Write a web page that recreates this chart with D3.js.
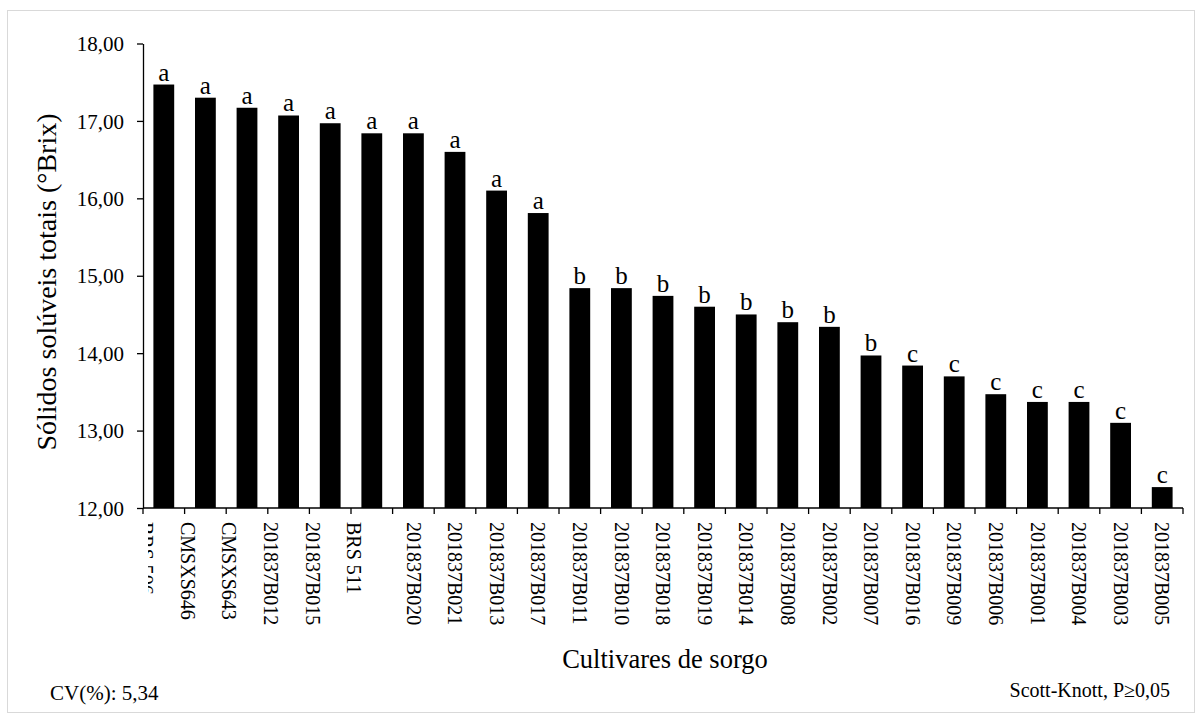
<!DOCTYPE html>
<html>
<head>
<meta charset="utf-8">
<script src="https://cdn.jsdelivr.net/npm/d3@7"></script>
<style>
  html, body { margin: 0; padding: 0; background: #fff; }
  svg text { font-family: "Liberation Serif", "Times New Roman", serif; fill: #000; }
</style>
</head>
<body>
<svg id="chart" width="1202" height="722"></svg>
<script>
// Cultivars of sorghum and their total soluble solids (°Brix)
const cultivars = [
  "BRS 506", "CMSXS646", "CMSXS643", "201837B012", "201837B015", "BRS 511",
  "201837B020", "201837B021", "201837B013", "201837B017", "201837B011",
  "201837B010", "201837B018", "201837B019", "201837B014", "201837B008",
  "201837B002", "201837B007", "201837B016", "201837B009", "201837B006",
  "201837B001", "201837B004", "201837B003", "201837B005"
];
const brix = [
  17.47, 17.30, 17.17, 17.07, 16.97, 16.84,
  16.84, 16.60, 16.10, 15.81, 14.84,
  14.84, 14.74, 14.60, 14.50, 14.40,
  14.34, 13.97, 13.84, 13.70, 13.47,
  13.37, 13.37, 13.10, 12.27
];
// Scott-Knott grouping letters
const groups = [
  "a", "a", "a", "a", "a", "a",
  "a", "a", "a", "a", "b",
  "b", "b", "b", "b", "b",
  "b", "b", "c", "c", "c",
  "c", "c", "c", "c"
];
const yTicks = [12, 13, 14, 15, 16, 17, 18];

const svg = d3.select("#chart");
const W = 1202, H = 722;

// outer frame
svg.append("rect")
  .attr("x", 7.5).attr("y", 10.5)
  .attr("width", 1187).attr("height", 702)
  .attr("fill", "#fff").attr("stroke", "#d9d9d9").attr("stroke-width", 1);

const plot = { left: 143, right: 1183, top: 43.5, bottom: 508 };

const x = d3.scaleBand()
  .domain(cultivars)
  .range([plot.left, plot.right])
  .paddingInner(0.5).paddingOuter(0.25);

const y = d3.scaleLinear()
  .domain([12, 18])
  .range([plot.bottom, plot.top]);

const fmt = v => d3.format(".2f")(v).replace(".", ",");

// bars
svg.append("g")
  .selectAll("rect")
  .data(cultivars)
  .join("rect")
  .attr("x", d => x(d))
  .attr("width", x.bandwidth())
  .attr("y", (d, i) => y(brix[i]))
  .attr("height", (d, i) => y(12) - y(brix[i]))
  .attr("fill", "#000");

// group letters above bars
svg.append("g")
  .selectAll("text")
  .data(cultivars)
  .join("text")
  .attr("x", d => x(d) + x.bandwidth() / 2)
  .attr("y", (d, i) => y(brix[i]) - 4)
  .attr("text-anchor", "middle")
  .attr("font-size", 25)
  .text((d, i) => groups[i]);

// y axis
const yAxis = svg.append("g")
  .attr("transform", `translate(${plot.left},0)`)
  .call(d3.axisLeft(y).tickValues(yTicks).tickFormat(fmt).tickSize(6).tickSizeOuter(0));
yAxis.select(".domain").attr("stroke", "#000").attr("stroke-width", 1.3);
yAxis.selectAll(".tick line").attr("stroke", "#000").attr("stroke-width", 1.3);
yAxis.selectAll(".tick text")
  .attr("font-family", "Liberation Serif, Times New Roman, serif")
  .attr("font-size", 21).attr("x", -19).attr("dy", "0.34em");

// x axis: boundary ticks between categories
const xAxisG = svg.append("g");
xAxisG.append("line")
  .attr("x1", plot.left).attr("x2", plot.right)
  .attr("y1", plot.bottom).attr("y2", plot.bottom)
  .attr("stroke", "#000").attr("stroke-width", 1.3);
const step = x.step();
const bounds = d3.range(cultivars.length + 1).map(i => plot.left + i * step);
xAxisG.selectAll("line.tk")
  .data(bounds)
  .join("line")
  .attr("class", "tk")
  .attr("x1", d => d).attr("x2", d => d)
  .attr("y1", plot.bottom).attr("y2", plot.bottom + 6)
  .attr("stroke", "#000").attr("stroke-width", 1.3);

// the first six labels sit on the left boundary tick of their band
const labelX = (d, i) => i < 6
  ? plot.left + i * step + 3
  : x(d) + x.bandwidth() / 2;

// only the right edge of the first label shows
svg.append("defs").append("clipPath").attr("id", "firstLabelClip")
  .append("rect")
  .attr("x", plot.left + 5).attr("y", 0)
  .attr("width", 20)
  .attr("height", H);

const labelsG = xAxisG.append("g");
const clippedG = xAxisG.append("g").attr("clip-path", "url(#firstLabelClip)");

cultivars.forEach((d, i) => {
  (i === 0 ? clippedG : labelsG).append("text")
    .attr("font-size", 20)
    .attr("transform", `translate(${labelX(d, i)},${plot.bottom + 14}) rotate(90)`)
    .attr("dy", "0.34em")
    .text(d);
});

// axis titles
svg.append("text")
  .attr("transform", `translate(56,282) rotate(-90)`)
  .attr("text-anchor", "middle")
  .attr("font-size", 28)
  .text("Sólidos solúveis totais (°Brix)");

svg.append("text")
  .attr("x", (plot.left + plot.right) / 2 + 2)
  .attr("y", 668)
  .attr("text-anchor", "middle")
  .attr("font-size", 26.5)
  .text("Cultivares de sorgo");

// footnotes
svg.append("text")
  .attr("x", 50).attr("y", 700)
  .attr("font-size", 21)
  .text("CV(%): 5,34");

svg.append("text")
  .attr("x", 1170).attr("y", 697)
  .attr("text-anchor", "end")
  .attr("font-size", 20)
  .text("Scott-Knott, P≥0,05");
</script>
</body>
</html>
